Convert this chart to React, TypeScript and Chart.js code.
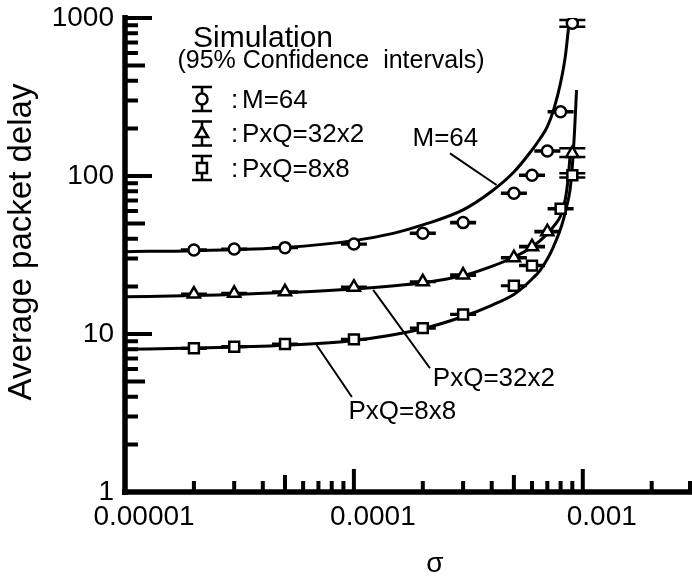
import React, { useEffect, useRef } from "react";
import { Chart, registerables } from "chart.js";

Chart.register(...registerables);

// ---------- Simulation points (with 95% confidence limits) ----------
const SIM_X_M64 = [2e-5, 3e-5, 5e-5, 1e-4, 2e-4, 3e-4, 5e-4, 6e-4, 7e-4, 8e-4, 9e-4];
const SIM_Y_M64 = [34, 34.5, 35.2, 37.1, 43.4, 50.7, 77.7, 101, 144, 255, 925];
const SIM_LO_M64 = [33.8, 34.3, 35.0, 36.9, 43.1, 50.3, 77.2, 100.3, 143, 253, 881];
const SIM_HI_M64 = [34.2, 34.7, 35.4, 37.3, 43.7, 51.1, 78.2, 101.7, 145, 257, 971];

const SIM_X_32X2 = [2e-5, 3e-5, 5e-5, 1e-4, 2e-4, 3e-4, 5e-4, 6e-4, 7e-4, 9e-4];
const SIM_Y_32X2 = [17.9, 18.1, 18.5, 19.8, 21.4, 23.6, 30.4, 35.7, 44.4, 139];
const SIM_LO_32X2 = [17.8, 18.0, 18.4, 19.7, 21.3, 23.4, 30.2, 35.4, 44.0, 132];
const SIM_HI_32X2 = [18.0, 18.2, 18.6, 19.9, 21.5, 23.8, 30.6, 36.0, 44.8, 150];

const SIM_X_8X8 = [2e-5, 3e-5, 5e-5, 1e-4, 2e-4, 3e-4, 5e-4, 6e-4, 8e-4, 9e-4];
const SIM_Y_8X8 = [8.12, 8.31, 8.65, 9.25, 10.9, 13.3, 20.2, 27.1, 62, 101];
const SIM_LO_8X8 = [8.08, 8.27, 8.61, 9.2, 10.85, 13.23, 20.1, 26.9, 61.5, 98];
const SIM_HI_8X8 = [8.16, 8.35, 8.69, 9.3, 10.95, 13.37, 20.3, 27.3, 62.5, 104];

// ---------- Analytical curves ----------
const CURVE_X_M64 = [1e-5, 2e-5, 5e-5, 1e-4, 1.5e-4, 2e-4, 3e-4, 4e-4, 5e-4, 6e-4, 6.5e-4, 7e-4, 7.5e-4, 8e-4, 8.4e-4, 8.75e-4];
const CURVE_Y_M64 = [33.2, 33.7, 35.3, 39, 43.5, 49, 61, 80, 106, 146, 172, 205, 270, 390, 580, 1000];

const CURVE_X_32X2 = [1e-5, 2e-5, 5e-5, 1e-4, 2e-4, 3e-4, 4e-4, 5e-4, 6e-4, 7e-4, 7.5e-4, 8e-4, 8.4e-4, 8.65e-4, 8.85e-4];
const CURVE_Y_32X2 = [17.2, 17.5, 18.3, 19.3, 21.1, 23.4, 26.8, 30.6, 35.5, 43, 48.5, 56, 72, 100, 150];

const CURVE_X_8X8 = [1e-5, 2e-5, 5e-5, 1e-4, 2e-4, 3e-4, 4e-4, 5e-4, 5.5e-4, 6e-4, 6.5e-4, 7e-4, 7.4e-4, 7.9e-4, 8.2e-4, 8.5e-4, 8.8e-4, 9e-4, 9.2e-4, 9.39e-4];
const CURVE_Y_8X8 = [8.0, 8.15, 8.5, 9.1, 10.8, 12.9, 15.2, 17.8, 19.8, 22.3, 25.2, 29.8, 35, 44, 52, 64, 82, 115, 190, 350];

// ---------- Axes ----------
const X_MIN = 1e-5;
const X_MAX = 3.0e-3;
const Y_MIN = 1;
const Y_MAX = 1000;
const X_TICKS = [1e-5, 1e-4, 1e-3];
const X_TICK_LABELS = ["0.00001", "0.0001", "0.001"];
const Y_TICKS = [1, 10, 100, 1000];
const Y_TICK_LABELS = ["1", "10", "100", "1000"];
const MINOR_MULTIPLIERS = [2, 3, 4, 5, 6, 7, 8, 9];

const Y_TITLE = "Average packet delay";
const X_TITLE = "σ";

// ---------- Legend / annotations ----------
const LEGEND_TITLE = "Simulation";
const LEGEND_SUBTITLE = "(95% Confidence  intervals)";
const LEGEND_LABELS = ["M=64", "PxQ=32x2", "PxQ=8x8"];
const LEGEND_STYLES = ["circle", "triangle", "rect"];

const ANNOT_TEXT = ["M=64", "PxQ=32x2", "PxQ=8x8"];
const ANNOT_POS: [number, number][] = [[2.51e-4, 172], [4.09e-4, 5.19], [1.628e-4, 3.23]];
const LEADER_FROM: [number, number][] = [[2.63e-4, 139], [1.214e-4, 19.0], [6.87e-5, 8.52]];
const LEADER_TO: [number, number][] = [[4.2e-4, 87.7], [2.15e-4, 6.07], [9.8e-5, 3.99]];

const FONT = "'Liberation Sans', Arial, Helvetica, sans-serif";

const toPts = (xs: number[], ys: number[]) => xs.map((x, i) => ({ x, y: ys[i] }));

const MARKER_RADIUS: Record<string, number> = { circle: 5.5, triangle: 7, rect: 7 };

function drawMarker(ctx: CanvasRenderingContext2D, style: string, x: number, y: number) {
  ctx.save();
  ctx.fillStyle = "#fff";
  ctx.strokeStyle = "#000";
  ctx.lineWidth = 2.5;
  ctx.beginPath();
  const r = MARKER_RADIUS[style];
  if (style === "circle") {
    ctx.arc(x, y, r, 0, Math.PI * 2);
  } else if (style === "triangle") {
    ctx.moveTo(x, y - r);
    ctx.lineTo(x + r * Math.sin((2 * Math.PI) / 3), y - r * Math.cos((2 * Math.PI) / 3));
    ctx.lineTo(x + r * Math.sin((4 * Math.PI) / 3), y - r * Math.cos((4 * Math.PI) / 3));
    ctx.closePath();
  } else {
    const s = r * Math.SQRT1_2;
    ctx.rect(x - s, y - s, 2 * s, 2 * s);
  }
  ctx.fill();
  ctx.stroke();
  ctx.restore();
}

const ERR_SETS = [
  { xs: SIM_X_M64, lo: SIM_LO_M64, hi: SIM_HI_M64 },
  { xs: SIM_X_32X2, lo: SIM_LO_32X2, hi: SIM_HI_32X2 },
  { xs: SIM_X_8X8, lo: SIM_LO_8X8, hi: SIM_HI_8X8 },
];

const paperPlugin = {
  id: "paperPlugin",
  beforeDraw(chart: any) {
    const { ctx, width, height } = chart;
    ctx.save();
    ctx.fillStyle = "#fff";
    ctx.fillRect(0, 0, width, height);
    ctx.restore();
  },
  beforeDatasetsDraw(chart: any) {
    const { ctx } = chart;
    const xs = chart.scales.x;
    const ys = chart.scales.y;
    ctx.save();
    ctx.strokeStyle = "#000";
    ctx.lineWidth = 2.5;
    ERR_SETS.forEach((set) => {
      set.xs.forEach((xv, i) => {
        const px = xs.getPixelForValue(xv);
        const pLo = ys.getPixelForValue(set.lo[i]);
        const pHi = ys.getPixelForValue(set.hi[i]);
        ctx.beginPath();
        ctx.moveTo(px, pLo);
        ctx.lineTo(px, pHi);
        ctx.moveTo(px - 13, pLo);
        ctx.lineTo(px + 13, pLo);
        ctx.moveTo(px - 13, pHi);
        ctx.lineTo(px + 13, pHi);
        ctx.stroke();
      });
    });
    ctx.restore();
  },
  afterDraw(chart: any) {
    const { ctx, chartArea } = chart;
    const xs = chart.scales.x;
    const ys = chart.scales.y;
    const { left, right, top, bottom } = chartArea;
    ctx.save();
    ctx.strokeStyle = "#000";
    ctx.fillStyle = "#000";
    ctx.lineCap = "butt";

    // axis lines
    ctx.lineWidth = 5.5;
    ctx.beginPath();
    ctx.moveTo(left, top - 3);
    ctx.lineTo(left, bottom + 3);
    ctx.moveTo(left - 3, bottom);
    ctx.lineTo(right, bottom);
    ctx.stroke();

    // inward ticks
    ctx.lineWidth = 4;
    ctx.beginPath();
    for (let d = 0; d < 3; d++) {
      const base = Y_TICKS[d];
      MINOR_MULTIPLIERS.forEach((m) => {
        const py = ys.getPixelForValue(base * m);
        const len = m === 5 ? 20 : 13;
        ctx.moveTo(left, py);
        ctx.lineTo(left + len, py);
      });
    }
    Y_TICKS.forEach((v) => {
      if (v === 1) return;
      const py = ys.getPixelForValue(v);
      ctx.moveTo(left, py);
      ctx.lineTo(left + 27, py);
    });
    [1e-5, 1e-4, 1e-3].forEach((base) => {
      MINOR_MULTIPLIERS.forEach((m) => {
        const v = base * m;
        if (v > X_MAX * 1.001) return;
        const px = Math.min(xs.getPixelForValue(v), right - 2);
        const len = m === 5 ? 17 : 11;
        ctx.moveTo(px, bottom);
        ctx.lineTo(px, bottom - len);
      });
    });
    X_TICKS.forEach((v) => {
      if (v === X_MIN) return;
      const px = xs.getPixelForValue(v);
      ctx.moveTo(px, bottom);
      ctx.lineTo(px, bottom - 23);
    });
    ctx.stroke();

    // leader lines
    ctx.lineWidth = 2;
    ctx.beginPath();
    LEADER_FROM.forEach((f, i) => {
      const t = LEADER_TO[i];
      ctx.moveTo(xs.getPixelForValue(f[0]), ys.getPixelForValue(f[1]));
      ctx.lineTo(xs.getPixelForValue(t[0]), ys.getPixelForValue(t[1]));
    });
    ctx.stroke();

    // annotation labels
    ctx.font = `26px ${FONT}`;
    ctx.textAlign = "center";
    ctx.textBaseline = "middle";
    ANNOT_TEXT.forEach((t, i) => {
      ctx.fillText(t, xs.getPixelForValue(ANNOT_POS[i][0]), ys.getPixelForValue(ANNOT_POS[i][1]));
    });

    // legend block
    ctx.textBaseline = "alphabetic";
    ctx.textAlign = "center";
    ctx.font = `30px ${FONT}`;
    ctx.fillText(LEGEND_TITLE, 263, 46.5);
    ctx.font = `25px ${FONT}`;
    ctx.fillText(LEGEND_SUBTITLE, 331, 68);

    const rowY = [99, 133.5, 168];
    const symX = 202;
    LEGEND_LABELS.forEach((lab, i) => {
      const cy = rowY[i];
      ctx.lineWidth = 2.5;
      ctx.beginPath();
      ctx.moveTo(symX, cy - 12);
      ctx.lineTo(symX, cy + 12);
      ctx.moveTo(symX - 10, cy - 12);
      ctx.lineTo(symX + 10, cy - 12);
      ctx.moveTo(symX - 10, cy + 12);
      ctx.lineTo(symX + 10, cy + 12);
      ctx.stroke();
      drawMarker(ctx, LEGEND_STYLES[i], symX, cy);
      ctx.fillStyle = "#000";
      ctx.font = `26px ${FONT}`;
      ctx.textAlign = "left";
      ctx.fillText(":", 231, cy + 8.5);
      ctx.fillText(lab, 242, cy + 8.5);
    });

    // axis titles
    ctx.save();
    ctx.font = `33px ${FONT}`;
    ctx.textAlign = "center";
    ctx.textBaseline = "middle";
    ctx.translate(22, 242);
    ctx.rotate(-Math.PI / 2);
    ctx.fillText(Y_TITLE, 0, 0);
    ctx.restore();

    ctx.font = `28px ${FONT}`;
    ctx.textAlign = "center";
    ctx.textBaseline = "alphabetic";
    ctx.fillText(X_TITLE, 435, 572);

    ctx.restore();
  },
};

export default function App() {
  const ref = useRef<HTMLCanvasElement | null>(null);

  useEffect(() => {
    document.body.style.margin = "0";
    const canvas = ref.current;
    if (!canvas) return;

    const markerDs = (label: string, xs: number[], ys: number[], style: string) => ({
      label,
      data: toPts(xs, ys),
      showLine: false,
      pointStyle: style,
      pointRadius: MARKER_RADIUS[style],
      pointHoverRadius: MARKER_RADIUS[style],
      pointBackgroundColor: "#fff",
      pointBorderColor: "#000",
      pointBorderWidth: 2.5,
      borderColor: "#000",
      backgroundColor: "#fff",
    });
    const curveDs = (label: string, xs: number[], ys: number[]) => ({
      label,
      data: toPts(xs, ys),
      borderColor: "#000",
      borderWidth: 3,
      pointRadius: 0,
      pointHoverRadius: 0,
      fill: false,
      cubicInterpolationMode: "monotone",
    });

    const zeroPad = (s: any) => {
      s.paddingTop = 0;
      s.paddingBottom = 0;
      s.paddingLeft = 0;
      s.paddingRight = 0;
    };

    const chart = new Chart(canvas, {
      type: "line",
      data: {
        datasets: [
          markerDs("Sim M=64", SIM_X_M64, SIM_Y_M64, "circle"),
          markerDs("Sim PxQ=32x2", SIM_X_32X2, SIM_Y_32X2, "triangle"),
          markerDs("Sim PxQ=8x8", SIM_X_8X8, SIM_Y_8X8, "rect"),
          curveDs("M=64", CURVE_X_M64, CURVE_Y_M64),
          curveDs("PxQ=32x2", CURVE_X_32X2, CURVE_Y_32X2),
          curveDs("PxQ=8x8", CURVE_X_8X8, CURVE_Y_8X8),
        ] as any,
      },
      options: {
        animation: false,
        responsive: false,
        maintainAspectRatio: false,
        events: [],
        layout: { autoPadding: false, padding: { top: 18, right: 0, left: 0, bottom: 0 } },
        plugins: { legend: { display: false }, tooltip: { enabled: false } },
        scales: {
          x: {
            type: "logarithmic",
            position: "bottom",
            min: X_MIN,
            max: X_MAX,
            grid: { display: false, drawTicks: false },
            border: { display: false },
            afterBuildTicks: (s: any) => {
              s.ticks = X_TICKS.map((v) => ({ value: v }));
            },
            afterFit: (s: any) => {
              s.height = 86;
              zeroPad(s);
            },
            ticks: {
              autoSkip: false,
              maxRotation: 0,
              minRotation: 0,
              padding: 8,
              labelOffset: 19,
              color: "#000",
              font: { family: FONT, size: 28 },
              callback: (_v: any, i: number) => X_TICK_LABELS[i],
            },
          },
          y: {
            type: "logarithmic",
            position: "left",
            min: Y_MIN,
            max: Y_MAX,
            grid: { display: false, drawTicks: false },
            border: { display: false },
            afterBuildTicks: (s: any) => {
              s.ticks = Y_TICKS.map((v) => ({ value: v }));
            },
            afterFit: (s: any) => {
              s.width = 125;
              zeroPad(s);
            },
            ticks: {
              autoSkip: false,
              padding: 11,
              color: "#000",
              font: { family: FONT, size: 28 },
              callback: (_v: any, i: number) => Y_TICK_LABELS[i],
            },
          },
        },
      } as any,
      plugins: [paperPlugin],
    });

    return () => chart.destroy();
  }, []);

  return (
    <div style={{ width: 692, height: 578 }}>
      <canvas ref={ref} width={692} height={578} style={{ display: "block" }} />
    </div>
  );
}
